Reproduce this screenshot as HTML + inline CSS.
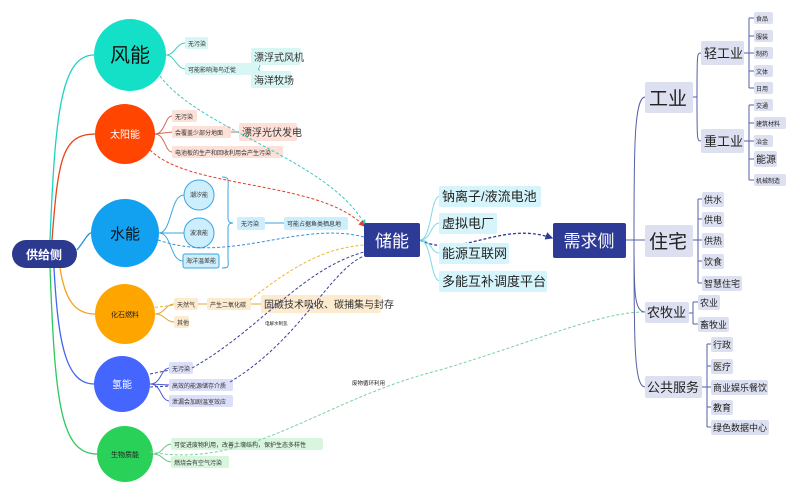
<!DOCTYPE html>
<html><head><meta charset="utf-8"><style>
html,body{margin:0;padding:0;background:#fff;}
svg text{font-family:"Liberation Sans","Noto Sans CJK SC",sans-serif;}
</style></head><body>
<svg width="800" height="494" viewBox="0 0 800 494" xmlns="http://www.w3.org/2000/svg">
<defs>
<marker id="ar" markerWidth="6" markerHeight="6" refX="5" refY="3" orient="auto"><path d="M0,0 L6,3 L0,6 z" fill="#2d3a96"/></marker>
<marker id="ar2" markerWidth="6" markerHeight="6" refX="5" refY="3" orient="auto"><path d="M0,0 L6,3 L0,6 z" fill="#e0402a"/></marker>
<marker id="ar3" markerWidth="6" markerHeight="6" refX="5" refY="3" orient="auto"><path d="M0,0 L6,3 L0,6 z" fill="#3ec9c0"/></marker>
</defs>
<!-- trunk lines from 供给侧 -->
<g fill="none" stroke-width="1.3">
<path d="M50,240 C55,120 60,55 94,55" stroke="#1dd3c0"/>
<path d="M52,240 C58,160 62,134 95,134" stroke="#e8441e"/>
<path d="M77,250 C85,240 88,233 91,233" stroke="#1a9ae0"/>
<path d="M60,268 C65,300 75,314 95,314" stroke="#f5a21a"/>
<path d="M54,268 C58,340 65,384 94,384" stroke="#4466ee"/>
<path d="M50,268 C55,400 60,454 97,454" stroke="#2ac85a"/>
</g>
<!-- supply circles -->
<circle cx="130" cy="55" r="36" fill="#14e0c8"/>
<text x="130" y="62" font-size="20" text-anchor="middle" fill="#111">风能</text>
<circle cx="125" cy="134" r="30" fill="#ff4500"/>
<text x="125" y="138" font-size="10" text-anchor="middle" fill="#fff">太阳能</text>
<circle cx="125" cy="233" r="34" fill="#12a0f0"/>
<text x="125" y="239" font-size="15" text-anchor="middle" fill="#111">水能</text>
<circle cx="125" cy="314" r="30" fill="#ffa500"/>
<text x="125" y="317" font-size="7" text-anchor="middle" fill="#222">化石燃料</text>
<circle cx="122" cy="384" r="28" fill="#4466ff"/>
<text x="122" y="388" font-size="10" text-anchor="middle" fill="#fff">氢能</text>
<circle cx="125" cy="454" r="28" fill="#2ad158"/>
<text x="125" y="457" font-size="7" text-anchor="middle" fill="#222">生物质能</text>
<rect x="12" y="240" width="65" height="28" rx="14" fill="#2b3a8f"/>
<text x="44" y="259" font-size="12" font-weight="bold" text-anchor="middle" fill="#fff">供给侧</text>

<!-- wind children -->
<g fill="none" stroke="#3ed0c4" stroke-width="1">
<path d="M166,55 C175,55 176,43 186,43"/><path d="M166,55 C175,55 176,69 186,69"/>
<path d="M257,69 C262,69 260,57 252,57"/><path d="M257,69 C262,69 260,79 252,79"/>
</g>
<g font-size="6" fill="#333">
<rect x="185" y="37" width="23" height="12" rx="2" fill="#d7f6f4"/><text x="188" y="46">无污染</text>
<rect x="185" y="63" width="73" height="12" rx="2" fill="#d7f6f4"/><text x="188" y="72">可能影响海鸟迁徙</text>
</g>
<rect x="251" y="48" width="50" height="17" rx="2" fill="#d7f6f4"/><text x="254" y="61" font-size="10" fill="#333">漂浮式风机</text>
<rect x="251" y="71" width="40" height="17" rx="2" fill="#d7f6f4"/><text x="254" y="84" font-size="10" fill="#333">海洋牧场</text>

<!-- solar children -->
<g fill="none" stroke="#d9644a" stroke-width="1">
<path d="M155,134 C165,134 165,116 172,116"/><path d="M155,134 L172,132"/><path d="M155,134 C165,134 165,152 172,152"/>
<path d="M230,132 L240,132"/>
</g>
<g font-size="6" fill="#333">
<rect x="172" y="110" width="25" height="12" rx="2" fill="#fde0d8"/><text x="175" y="119">无污染</text>
<rect x="172" y="126" width="59" height="12" rx="2" fill="#fde0d8"/><text x="175" y="135">会覆盖少部分地面</text>
<rect x="172" y="146" width="111" height="12" rx="2" fill="#fde0d8"/><text x="175" y="155">电池板的生产和回收利用会产生污染</text>
</g>
<rect x="239" y="123" width="58" height="18" rx="2" fill="#fde0d8"/><text x="242" y="136" font-size="10" fill="#333">漂浮光伏发电</text>

<!-- water children -->
<g fill="none" stroke="#3aa6e0" stroke-width="1">
<path d="M159,233 C172,233 170,195 184,195"/><path d="M159,233 L184,233"/><path d="M159,233 C172,233 170,261 183,261"/>
<path d="M222,177 C230,177 228,180 228,190 L228,218 C228,222 230,223 233,223 C230,223 228,224 228,228 L228,258 C228,266 230,268 222,268"/>
<path d="M264,223 L285,223"/>
</g>
<circle cx="199" cy="195" r="15" fill="#cdeefc" stroke="#3aa6e0"/><text x="199" y="197" font-size="6" text-anchor="middle" fill="#333">潮汐能</text>
<circle cx="199" cy="233" r="15" fill="#cdeefc" stroke="#3aa6e0"/><text x="199" y="235" font-size="6" text-anchor="middle" fill="#333">波浪能</text>
<rect x="183" y="254" width="36" height="14" rx="2" fill="#cdeefc" stroke="#3aa6e0"/><text x="201" y="263" font-size="6" text-anchor="middle" fill="#333">海洋温差能</text>
<rect x="237" y="217" width="28" height="13" rx="2" fill="#cdeefc"/><text x="241" y="226" font-size="6" fill="#333">无污染</text>
<rect x="284" y="217" width="64" height="13" rx="2" fill="#cdeefc"/><text x="287" y="226" font-size="6" fill="#333">可能占据鱼类栖息地</text>

<!-- fossil children -->
<g fill="none" stroke="#e0a93a" stroke-width="1">
<path d="M155,314 C165,314 165,304 175,304"/><path d="M155,314 C165,314 165,322 175,322"/>
<path d="M198,304 L208,304"/><path d="M250,304 L262,304"/>
</g>
<g font-size="6" fill="#333">
<rect x="174" y="298" width="24" height="12" rx="2" fill="#fdebd0"/><text x="177" y="307">天然气</text>
<rect x="174" y="316" width="15" height="12" rx="2" fill="#fdebd0"/><text x="177" y="325">其他</text>
<rect x="207" y="298" width="44" height="12" rx="2" fill="#fdebd0"/><text x="210" y="307">产生二氧化碳</text>
</g>
<rect x="261" y="295" width="120" height="18" rx="2" fill="#fdebd0"/><text x="264" y="308" font-size="10" fill="#333">固碳技术吸收、碳捕集与封存</text>
<text x="265" y="325" font-size="4.5" fill="#222">电解水制氢</text>

<!-- hydrogen children -->
<g fill="none" stroke="#4a5ad6" stroke-width="1">
<path d="M150,384 C162,384 160,368 170,368"/><path d="M150,384 L170,385"/><path d="M150,384 C162,384 160,401 170,401"/>
</g>
<g font-size="6" fill="#333">
<rect x="169" y="362" width="24" height="12" rx="2" fill="#dcdffa"/><text x="172" y="371">无污染</text>
<rect x="169" y="379" width="64" height="12" rx="2" fill="#dcdffa"/><text x="172" y="388">高效的能源储存介质</text>
<rect x="169" y="395" width="64" height="12" rx="2" fill="#dcdffa"/><text x="172" y="404">泄漏会加剧温室效应</text>
</g>

<!-- bio children -->
<g fill="none" stroke="#5cc97a" stroke-width="1">
<path d="M153,454 C163,454 163,444 172,444"/><path d="M153,454 C163,454 163,462 172,462"/>
</g>
<g font-size="6" fill="#333">
<rect x="171" y="438" width="152" height="12" rx="2" fill="#d8f5dd"/><text x="174" y="447">可促进废物利用，改善土壤结构，保护生态多样性</text>
<rect x="171" y="456" width="58" height="12" rx="2" fill="#d8f5dd"/><text x="174" y="465">燃烧会有空气污染</text>
</g>
<text x="352" y="385" font-size="5.5" fill="#222">废物循环利用</text>

<!-- dashed connectors -->
<g fill="none" stroke-width="1" stroke-dasharray="3,2">
<path d="M160,76 C200,130 330,160 365,225" stroke="#3ec9c0" marker-end="url(#ar3)"/>
<path d="M150,150 C190,190 320,180 364,226" stroke="#e0402a" marker-end="url(#ar2)"/>
<path d="M158,240 C230,265 300,220 364,237" stroke="#3a8fd8"/>
<path d="M150,308 L175,305 M250,300 C300,260 330,248 364,245" stroke="#e8b830"/>
<path d="M150,374 L170,370 M192,368 C260,330 300,270 364,252" stroke="#3a3f9a"/>
<path d="M150,387 L170,386 M230,382 C300,340 330,270 364,256" stroke="#3a3f9a"/>
<path d="M150,452 C250,470 320,400 440,370 C540,340 600,312 645,312" stroke="#7ccf9e"/>
<path d="M420,240 C460,260 500,220 552,238" stroke="#2d3a96" stroke-width="1.3" marker-end="url(#ar)"/>
</g>

<!-- storage -->
<g fill="none" stroke="#7fd8e8" stroke-width="1">
<path d="M420,240 C432,240 430,196 440,196"/><path d="M420,240 C432,240 430,223 440,223"/>
<path d="M420,240 C432,240 430,253 440,253"/><path d="M420,240 C432,240 430,281 440,281"/>
</g>
<rect x="364" y="223" width="56" height="34" rx="2" fill="#2d3a96"/>
<text x="392" y="247" font-size="17" text-anchor="middle" fill="#fff">储能</text>
<g font-size="13" fill="#222">
<rect x="439" y="186" width="102" height="21" rx="2" fill="#d6f4fb"/><text x="442" y="201">钠离子/液流电池</text>
<rect x="439" y="213" width="58" height="21" rx="2" fill="#d6f4fb"/><text x="442" y="228">虚拟电厂</text>
<rect x="439" y="243" width="70" height="21" rx="2" fill="#d6f4fb"/><text x="442" y="258">能源互联网</text>
<rect x="439" y="271" width="108" height="21" rx="2" fill="#d6f4fb"/><text x="442" y="286">多能互补调度平台</text>
</g>
<rect x="553" y="223" width="73" height="35" rx="2" fill="#2d3a96"/>
<text x="589" y="247" font-size="17" text-anchor="middle" fill="#fff">需求侧</text>

<!-- demand tree lines -->
<g fill="none" stroke="#5560a8" stroke-width="1">
<path d="M626,240 L645,240"/>
<path d="M634,240 C634,150 634,98 645,97"/>
<path d="M634,240 C634,290 634,312 645,312"/>
<path d="M634,240 C634,340 634,387 645,387"/>
<path d="M693,97 L697,97 M697,97 C697,53 697,53 701,53 M697,97 C697,141 697,141 701,141"/>
<path d="M744,53 L749,53 M749,18 L749,88 M749,18 L754,18 M749,36 L754,36 M749,53 L754,53 M749,71 L754,71 M749,88 L754,88"/>
<path d="M744,141 L749,141 M749,105 L749,180 M749,105 L754,105 M749,123 L754,123 M749,141 L754,141 M749,159 L754,159 M749,180 L754,180"/>
<path d="M693,240 L698,240 M698,199 L698,283 M698,199 L702,199 M698,219 L702,219 M698,240 L702,240 M698,261 L702,261 M698,283 L702,283"/>
<path d="M688,313 L693,313 M693,302 L693,324 M693,302 L698,302 M693,324 L698,324"/>
<path d="M702,387 L707,387 M707,344 L707,427 M707,344 L711,344 M707,366 L711,366 M707,387 L711,387 M707,407 L711,407 M707,427 L711,427"/>
</g>
<g fill="#222">
<rect x="645" y="82" width="48" height="31" rx="2" fill="#dde0f0"/><text x="649" y="105" font-size="19">工业</text>
<rect x="701" y="41" width="43" height="24" rx="2" fill="#dde0f0"/><text x="704" y="58" font-size="13">轻工业</text>
<rect x="701" y="129" width="43" height="24" rx="2" fill="#dde0f0"/><text x="704" y="146" font-size="13">重工业</text>
<g font-size="6">
<rect x="754" y="12" width="19" height="12" rx="2" fill="#dde0f0"/><text x="756" y="21">食品</text>
<rect x="754" y="30" width="19" height="12" rx="2" fill="#dde0f0"/><text x="756" y="39">服装</text>
<rect x="754" y="47" width="19" height="12" rx="2" fill="#dde0f0"/><text x="756" y="56">制药</text>
<rect x="754" y="65" width="19" height="12" rx="2" fill="#dde0f0"/><text x="756" y="74">文体</text>
<rect x="754" y="82" width="19" height="12" rx="2" fill="#dde0f0"/><text x="756" y="91">日用</text>
<rect x="754" y="99" width="19" height="12" rx="2" fill="#dde0f0"/><text x="756" y="108">交通</text>
<rect x="754" y="117" width="32" height="12" rx="2" fill="#dde0f0"/><text x="756" y="126">建筑材料</text>
<rect x="754" y="135" width="19" height="12" rx="2" fill="#dde0f0"/><text x="756" y="144">冶金</text>
<rect x="754" y="174" width="32" height="12" rx="2" fill="#dde0f0"/><text x="756" y="183">机械制造</text>
</g>
<rect x="754" y="151" width="23" height="16" rx="2" fill="#dde0f0"/><text x="756" y="163" font-size="10">能源</text>
<rect x="645" y="225" width="48" height="32" rx="2" fill="#dde0f0"/><text x="649" y="248" font-size="19">住宅</text>
<g font-size="9">
<rect x="702" y="192" width="22" height="15" rx="2" fill="#dde0f0"/><text x="704" y="203">供水</text>
<rect x="702" y="212" width="22" height="15" rx="2" fill="#dde0f0"/><text x="704" y="223">供电</text>
<rect x="702" y="233" width="22" height="15" rx="2" fill="#dde0f0"/><text x="704" y="244">供热</text>
<rect x="702" y="254" width="22" height="15" rx="2" fill="#dde0f0"/><text x="704" y="265">饮食</text>
<rect x="702" y="276" width="40" height="15" rx="2" fill="#dde0f0"/><text x="704" y="287">智慧住宅</text>
<rect x="698" y="295" width="22" height="15" rx="2" fill="#dde0f0"/><text x="700" y="306">农业</text>
<rect x="698" y="317" width="31" height="15" rx="2" fill="#dde0f0"/><text x="700" y="328">畜牧业</text>
<rect x="711" y="337" width="22" height="15" rx="2" fill="#dde0f0"/><text x="713" y="348">行政</text>
<rect x="711" y="359" width="22" height="15" rx="2" fill="#dde0f0"/><text x="713" y="370">医疗</text>
<rect x="711" y="380" width="57" height="15" rx="2" fill="#dde0f0"/><text x="713" y="391">商业娱乐餐饮</text>
<rect x="711" y="400" width="22" height="15" rx="2" fill="#dde0f0"/><text x="713" y="411">教育</text>
<rect x="711" y="420" width="58" height="15" rx="2" fill="#dde0f0"/><text x="713" y="431">绿色数据中心</text>
</g>
<rect x="645" y="302" width="44" height="21" rx="2" fill="#dde0f0"/><text x="647" y="317" font-size="13">农牧业</text>
<rect x="645" y="376" width="57" height="22" rx="2" fill="#dde0f0"/><text x="647" y="392" font-size="13">公共服务</text>
</g>
</svg>
</body></html>
